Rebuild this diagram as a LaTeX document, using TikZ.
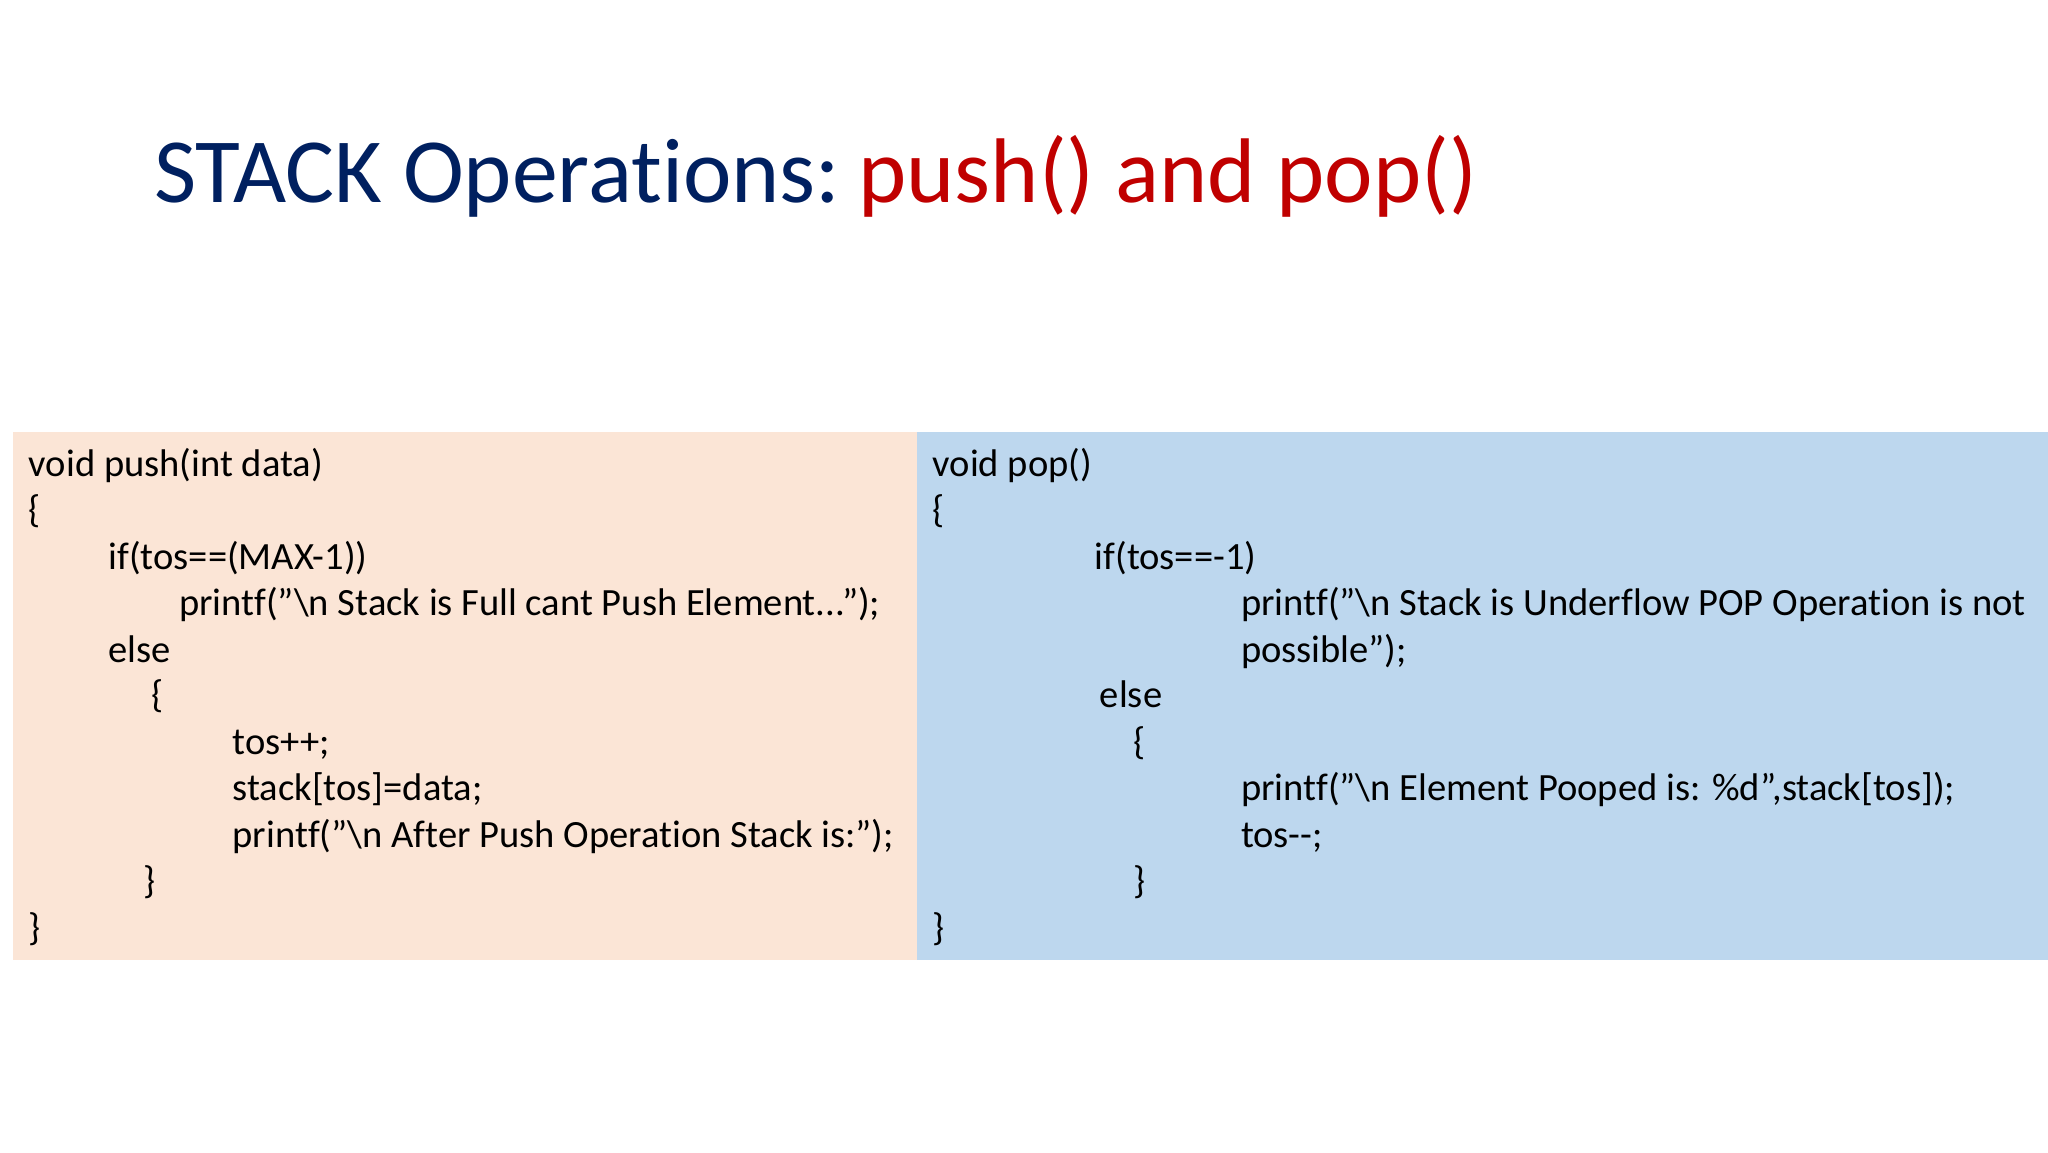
\documentclass[tikz,border=0pt]{standalone}
\usepackage{fontspec}
\setmainfont{Carlito}[Ligatures=ResetAll,RawFeature={-liga;-clig;-calt;-dlig}]
\definecolor{tblue}{HTML}{002060}
\definecolor{tred}{HTML}{C00000}
\definecolor{orbg}{HTML}{FBE5D6}
\definecolor{blbg}{HTML}{BDD7EE}
\newcommand{\dq}{\char"0022\relax}
\begin{document}
\begin{tikzpicture}[x=0.05cm,y=-0.05cm,
  code/.style={anchor=base west,inner sep=0pt,font=\fontsize{42}{50}\selectfont}]
\useasboundingbox (0,0) rectangle (1568,882);
\fill[white] (0,0) rectangle (1568,882);
\fill[orbg] (10,331) rectangle (702,735);
\fill[blbg] (702,331) rectangle (1568,735);
\node[anchor=base west,inner sep=0pt,font=\fontsize{100}{120}\selectfont] (title) at (118,155)
  {\textcolor{tblue}{STACK Operations:}\hspace{0.2em}\textcolor{tred}{push() and pop()}};
% left
\node[code] (l1) at (22,365) {void push(int data)};
\node[code] (l2) at (22,400) {\{};
\node[code] (l3) at (83,436) {if(tos==(MAX-1))};
\node[code] (l4) at (137,471) {printf(\dq\textbackslash n Stack is Full cant Push Element...\dq);};
\node[code] (l5) at (83,507) {else};
\node[code] (l6) at (116,542) {\{};
\node[code] (l7) at (178,578) {tos++;};
\node[code] (l8) at (178,613) {stack[tos]=data;};
\node[code] (l9) at (178,649) {printf(\dq\textbackslash n After Push Operation Stack is:\dq);};
\node[code] (l10) at (110,684) {\}};
\node[code] (l11) at (22,720) {\}};
% right
\node[code] (r1) at (714,365) {void pop()};
\node[code] (r2) at (714,400) {\{};
\node[code] (r3) at (838,436) {if(tos==-1)};
\node[code] (r4) at (950,471) {printf(\dq\textbackslash n Stack is Underflow POP Operation is not};
\node[code] (r5) at (950,507) {possible\dq);};
\node[code] (r6) at (842,542) {else};
\node[code] (r7) at (868,578) {\{};
\node[code] (r8) at (950,613) {printf(\dq\textbackslash n Element Pooped is: \%d\dq,stack[tos]);};
\node[code] (r9) at (950,649) {tos-{}-;};
\node[code] (r10) at (868,684) {\}};
\node[code] (r11) at (714,720) {\}};
\end{tikzpicture}
\end{document}
